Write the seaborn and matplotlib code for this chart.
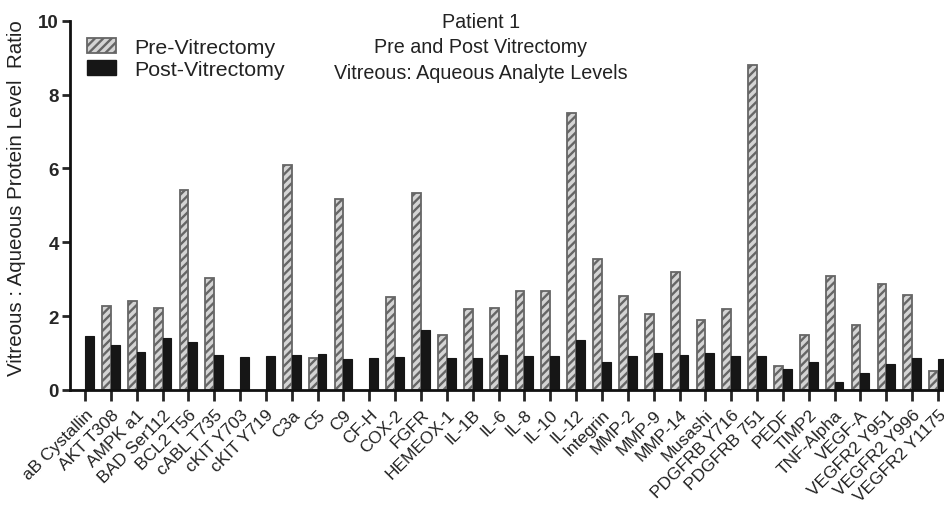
import numpy as np
import pandas as pd
import matplotlib
matplotlib.use("Agg")
import matplotlib.pyplot as plt
from matplotlib.patches import Patch
import seaborn as sns

analytes = [
    "aB Cystallin", "AKT T308", "AMPK a1", "BAD Ser112", "BCL2 T56", "cABL T735",
    "cKIT Y703", "cKIT Y719", "C3a", "C5", "C9", "CF-H", "COX-2", "FGFR",
    "HEMEOX-1", "IL-1B", "IL-6", "IL-8", "IL-10", "IL-12", "Integrin", "MMP-2",
    "MMP-9", "MMP-14", "Musashi", "PDGFRB Y716", "PDGFRB 751", "PEDF", "TIMP2",
    "TNF-Alpha", "VEGF-A", "VEGFR2 Y951", "VEGFR2 Y996", "VEGFR2 Y1175",
]
pre_vitrectomy = [
    np.nan, 2.27, 2.40, 2.22, 5.42, 3.04, np.nan, np.nan, 6.10, 0.88, 5.17, np.nan,
    2.52, 5.34, 1.48, 2.20, 2.22, 2.67, 2.67, 7.49, 3.54, 2.55, 2.07, 3.19, 1.90,
    2.20, 8.79, 0.66, 1.49, 3.10, 1.77, 2.88, 2.57, 0.51,
]
post_vitrectomy = [
    1.47, 1.22, 1.02, 1.41, 1.30, 0.95, 0.90, 0.91, 0.95, 0.98, 0.83, 0.86,
    0.90, 1.63, 0.88, 0.88, 0.96, 0.92, 0.92, 1.36, 0.77, 0.92, 1.00, 0.95, 0.99,
    0.91, 0.91, 0.57, 0.75, 0.22, 0.47, 0.70, 0.86, 0.85,
]
conditions = ["Pre-Vitrectomy", "Post-Vitrectomy"]
y_ticks = [0, 2, 4, 6, 8, 10]

df = pd.DataFrame({
    "Analyte": analytes * 2,
    "Condition": [conditions[0]] * len(analytes) + [conditions[1]] * len(analytes),
    "Ratio": pre_vitrectomy + post_vitrectomy,
})

sns.set_style("white")
plt.rcParams["font.family"] = ["Liberation Sans", "DejaVu Sans"]
plt.rcParams["hatch.linewidth"] = 1.7

PRE_FACE = "#d4d4d4"
PRE_EDGE = "#666666"
POST_FACE = "#161616"

fig = plt.figure(figsize=(9.45, 5.06), dpi=100)
ax = fig.add_axes([70 / 945, 1 - 391 / 506, 875 / 945, (391 - 21.7) / 506])

sns.barplot(
    data=df, x="Analyte", y="Ratio", hue="Condition", order=analytes,
    hue_order=conditions, palette=[PRE_FACE, POST_FACE], width=0.68,
    saturation=1, errorbar=None, legend=False, ax=ax,
)

# Hatched grey bars for the pre-vitrectomy series, solid black for post
for bar in ax.containers[0]:
    bar.set_facecolor(PRE_FACE)
    bar.set_edgecolor(PRE_EDGE)
    bar.set_hatch("////")
    bar.set_linewidth(1.3)
for bar in ax.containers[1]:
    bar.set_facecolor(POST_FACE)
    bar.set_edgecolor(POST_FACE)
    bar.set_linewidth(0.8)

ax.set_xlim(-0.58, 33.27)
ax.set_ylim(0, 10)
ax.set_yticks(y_ticks)
ax.set_yticklabels([str(t) for t in y_ticks], fontsize=13.5, fontweight="bold")
ax.set_xticks(range(len(analytes)))
ax.set_xticklabels(analytes, rotation=45, ha="right", va="top",
                   rotation_mode="anchor", fontsize=12.5, color="#222222")

for side in ("top", "right"):
    ax.spines[side].set_visible(False)
for side in ("left", "bottom"):
    ax.spines[side].set_linewidth(2.0)
    ax.spines[side].set_color("#111111")
ax.tick_params(axis="y", direction="out", length=6, width=2, pad=2, left=True)
ax.tick_params(axis="x", direction="out", length=8, width=2, pad=4, bottom=True)

ax.set_xlabel("")
ax.set_ylabel("Vitreous : Aqueous Protein Level  Ratio", fontsize=14.8,
              color="#222222")
ax.yaxis.set_label_coords(-0.05, 0.522)

fig.text(481 / 945, 1 - 13 / 506,
         "Patient 1\nPre and Post Vitrectomy\nVitreous: Aqueous Analyte Levels",
         ha="center", va="top", fontsize=14.2, color="#222222", linespacing=1.42)

handles = [
    Patch(facecolor=PRE_FACE, edgecolor=PRE_EDGE, hatch="////", linewidth=1.3),
    Patch(facecolor=POST_FACE, edgecolor=POST_FACE),
]
ax.legend(handles, conditions, loc="upper left", bbox_to_anchor=(0.005, 0.987),
          frameon=False, fontsize=15.4, handlelength=1.35, handleheight=0.7,
          handletextpad=0.85, labelspacing=0.12, borderaxespad=0.2,
          labelcolor="#222222")

fig.savefig("out.png", dpi=100)
